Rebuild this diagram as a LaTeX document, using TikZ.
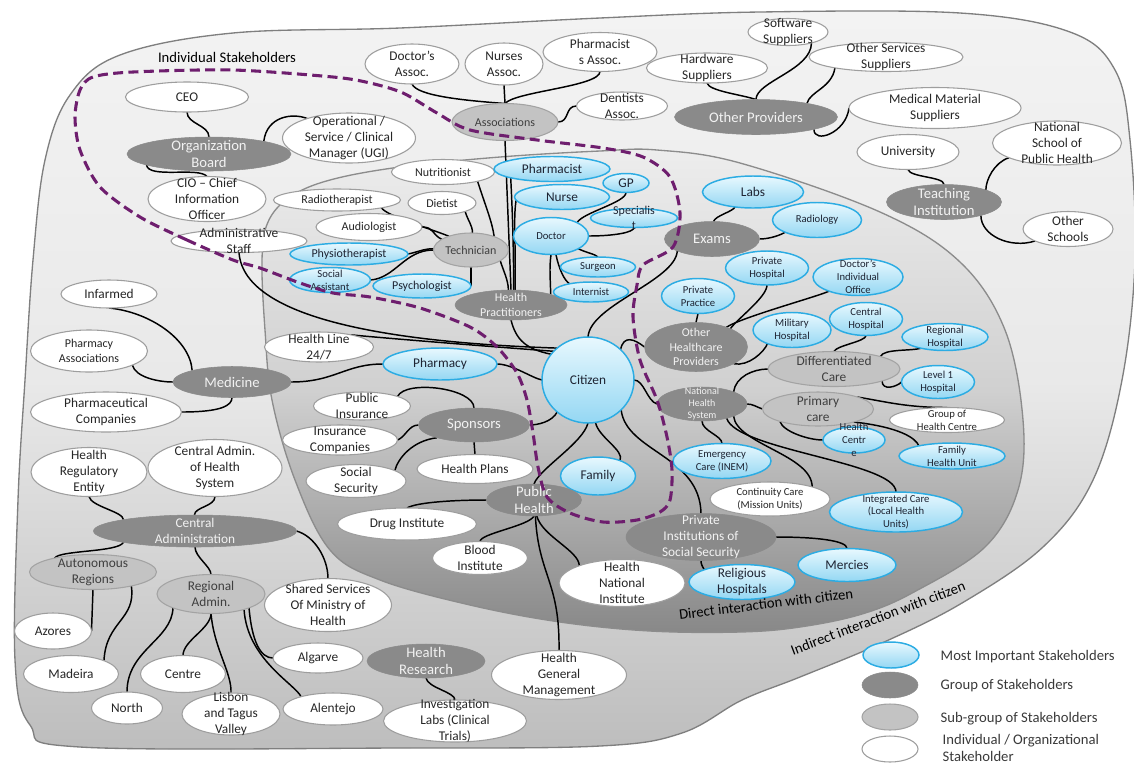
\documentclass[tikz,border=0pt]{standalone}
\usepackage{fontspec}
\setmainfont{Carlito}
\usetikzlibrary{shapes.geometric}
\pgfdeclarelayer{regions}
\pgfdeclarelayer{links}
\pgfsetlayers{regions,links,main}

\definecolor{outline}{HTML}{7F7F7F}
\definecolor{outtop}{HTML}{F3F3F3}
\definecolor{outmid}{HTML}{E9E9E9}
\definecolor{outbot}{HTML}{BDBDBD}
\definecolor{intop}{HTML}{EDEDED}
\definecolor{inmid}{HTML}{D0D0D0}
\definecolor{inbot}{HTML}{888888}
\definecolor{grpfill}{HTML}{8A8A8A}
\definecolor{grptext}{HTML}{F2F2F2}
\definecolor{subfill}{HTML}{C3C3C3}
\definecolor{subline}{HTML}{A3A3A3}
\definecolor{subtext}{HTML}{3F3F3F}
\definecolor{indline}{HTML}{9E9E9E}
\definecolor{inktext}{HTML}{262626}
\definecolor{keyline}{HTML}{2CACE3}
\definecolor{keytop}{HTML}{E8F8FE}
\definecolor{keybot}{HTML}{94D7F3}
\definecolor{keytext}{HTML}{1E2433}
\definecolor{purpledash}{HTML}{6E1E6E}
\definecolor{legtext}{HTML}{3A3A3A}

\newcommand\fsBig{\fontsize{11}{13}\selectfont}
\newcommand\fsMid{\fontsize{10}{12}\selectfont}
\newcommand\fsSmall{\fontsize{9}{10.8}\selectfont}
\newcommand\fsTiny{\fontsize{8}{9.6}\selectfont}
\newcommand\fsMini{\fontsize{7.5}{9.2}\selectfont}

\tikzset{
  shapebase/.style={ellipse, inner sep=0pt, outer sep=0pt},
  keyst/.style={shapebase, draw=keyline, line width=1.1pt, top color=keytop, bottom color=keybot},
  grpst/.style={shapebase, fill=grpfill, draw=grpfill, line width=0.4pt},
  subst/.style={shapebase, fill=subfill, draw=subline, line width=0.8pt},
  indst/.style={shapebase, fill=white, draw=indline, line width=0.8pt},
  linkst/.style={draw=black, line width=1.1pt},
  dashst/.style={draw=purpledash, line width=2.3pt, dash pattern=on 7.5pt off 4pt},
  regionst/.style={draw=outline, line width=1pt},
  every label/.append style={align=center, inner sep=0pt},
}

% one stakeholder ellipse: name, x, y, width, height (pixels), font, text
\newcommand\keynode[7]{\node[keyst, minimum width=#4*0.75pt, minimum height=#5*0.75pt,
  label={[font=#6, text=keytext]center:#7}] (#1) at (#2,#3) {};}
\newcommand\grpnode[7]{\node[grpst, minimum width=#4*0.75pt, minimum height=#5*0.75pt,
  label={[font=#6, text=grptext]center:#7}] (#1) at (#2,#3) {};}
\newcommand\subnode[7]{\node[subst, minimum width=#4*0.75pt, minimum height=#5*0.75pt,
  label={[font=#6, text=subtext]center:#7}] (#1) at (#2,#3) {};}
\newcommand\indnode[7]{\node[indst, minimum width=#4*0.75pt, minimum height=#5*0.75pt,
  label={[font=#6, text=inktext]center:#7}] (#1) at (#2,#3) {};}

\begin{document}
\begin{tikzpicture}[x=0.75pt,y=-0.75pt]
\useasboundingbox (0,0) rectangle (1134,765);

% ---------- interaction regions ----------
\begin{pgfonlayer}{regions}
\path[regionst, top color=outtop, bottom color=outbot, middle color=outmid]
  plot[smooth cycle, tension=0.6] coordinates {
  (33,260) (45,160) (70,95) (120,55) (233,33) (400,28) (600,18) (760,12)
  (960,13) (1070,32) (1115,70) (1130,140) (1135,260) (1122,380) (1093,480)
  (1043,547) (962,603) (882,643) (800,677) (742,700) (682,733) (600,746)
  (400,748) (80,747) (30,725) (15,660) (18,500) (25,380)};
\path[draw=outline!90, line width=1pt, top color=intop, bottom color=inbot, middle color=inmid]
  plot[smooth cycle, tension=0.6] coordinates {
  (265,330) (262,260) (268,222) (290,197) (330,180) (400,167) (500,157)
  (600,151) (657,150) (740,163) (880,212) (960,262) (1005,330) (1023,420)
  (1018,490) (985,547) (914,592) (862,614) (800,627) (740,632) (650,631)
  (560,622) (470,605) (380,580) (330,550) (295,480) (272,400)};
\end{pgfonlayer}

% ---------- organisation ----------
\indnode{ceo}{187}{97}{123}{30}{\fsMid}{CEO}
\grpnode{ob}{209}{154}{164}{34}{\fsBig}{Organization\\Board}
\indnode{cio}{207}{199}{118}{45}{\fsMid}{CIO -- Chief\\Information\\Officer}
\indnode{adm}{239}{241}{136}{23}{\fsMid}{Administrative\\Staff}
\indnode{opm}{349}{138}{133}{50}{\fsMid}{Operational /\\Service / Clinical\\Manager (UGI)}

% ---------- practitioners ----------
\indnode{rad}{337}{200}{127}{22}{\fsSmall}{Radiotherapist}
\indnode{aud}{369}{227}{106}{27}{\fsSmall}{Audiologist}
\keynode{phy}{349}{254}{118}{22}{\fsSmall}{Physiotherapist}
\keynode{soc}{330}{280}{81}{25}{\fsTiny}{Social\\Assistant}
\keynode{psy}{422}{286}{98}{24}{\fsSmall}{Psychologist}
\subnode{tec}{471}{250}{75}{34}{\fsSmall}{Technician}
\indnode{die}{442}{203}{68}{23}{\fsSmall}{Dietist}
\indnode{nut}{443}{172}{103}{25}{\fsSmall}{Nutritionist}
\grpnode{hp}{511}{305}{112}{30}{\fsSmall}{Health\\Practitioners}
\keynode{phm}{552}{169}{116}{25}{\fsMid}{Pharmacist}
\keynode{gp}{626}{183}{46}{19}{\fsMid}{GP}
\keynode{nur}{562}{197}{95}{25}{\fsMid}{Nurse}
\keynode{spe}{634}{218}{87}{19}{\fsSmall}{Specialis\\t}
\keynode{doc}{551}{236}{75}{37}{\fsTiny}{Doctor}
\keynode{sur}{598}{267}{75}{20}{\fsTiny}{Surgeon}
\keynode{int}{591}{292}{75}{20}{\fsTiny}{Internist}

% ---------- associations and providers ----------
\indnode{das}{412}{64}{94}{40}{\fsMid}{Doctor’s\\Assoc.}
\indnode{nas}{504}{64}{78}{42}{\fsMid}{Nurses\\Assoc.}
\indnode{pas}{600}{52}{114}{39}{\fsMid}{Pharmacist\\s Assoc.}
\indnode{dea}{622}{106}{91}{28}{\fsMid}{Dentists\\Assoc.}
\subnode{aso}{505}{122}{106}{37}{\fsSmall}{Associations}
\indnode{hws}{707}{68}{121}{30}{\fsMid}{Hardware\\Suppliers}
\grpnode{op}{756}{117}{163}{35}{\fsBig}{Other Providers}
\indnode{sws}{788}{32}{80}{27}{\fsMid}{Software\\Suppliers}
\indnode{oss}{886}{57}{154}{29}{\fsMid}{Other Services\\Suppliers}
\indnode{mms}{935}{108}{172}{41}{\fsMid}{Medical Material\\Suppliers}
\indnode{uni}{908}{152}{102}{35}{\fsMid}{University}
\indnode{nsp}{1057}{143}{129}{44}{\fsMid}{National\\School of\\Public Health}
\grpnode{ti}{944}{202}{115}{35}{\fsBig}{Teaching\\Institution}
\indnode{osc}{1068}{229}{90}{35}{\fsMid}{Other\\Schools}

% ---------- exams and healthcare providers ----------
\grpnode{exa}{712}{239}{95}{35}{\fsBig}{Exams}
\keynode{lab}{753}{192}{101}{32}{\fsMid}{Labs}
\keynode{rdg}{817}{220}{89}{35}{\fsTiny}{Radiology}
\keynode{ppr}{698}{296}{73}{35}{\fsTiny}{Private\\Practice}
\keynode{pho}{767}{268}{83}{34}{\fsTiny}{Private\\Hospital}
\grpnode{ohp}{696}{347}{103}{49}{\fsSmall}{Other\\Healthcare\\Providers}
\keynode{mil}{792}{330}{78}{35}{\fsTiny}{Military\\Hospital}
\keynode{dio}{858}{277}{90}{37}{\fsTiny}{Doctor’s\\Individual\\Office}
\keynode{ch}{866}{319}{73}{33}{\fsTiny}{Central\\Hospital}
\keynode{rh}{945}{337}{86}{27}{\fsTiny}{Regional\\Hospital}
\keynode{l1}{938}{382}{73}{33}{\fsTiny}{Level 1\\Hospital}
\subnode{dc}{834}{369}{132}{35}{\fsMid}{Differentiated\\Care}
\subnode{pc}{818}{409}{111}{34}{\fsMid}{Primary\\care}
\indnode{ghc}{947}{420}{115}{25}{\fsTiny}{Group of\\Health Centre}
\keynode{hc}{854}{440}{62}{26}{\fsTiny}{Health\\Centr\\e}
\keynode{fhu}{952}{456}{106}{26}{\fsTiny}{Family\\Health Unit}
\grpnode{nhs}{702}{404}{90}{34}{\fsMini}{National\\Health\\System}
\keynode{emc}{722}{461}{98}{35}{\fsTiny}{Emergency\\Care (INEM)}
\indnode{coc}{770}{499}{120}{34}{\fsTiny}{Continuity Care\\(Mission Units)}
\keynode{inc}{896}{512}{133}{40}{\fsTiny}{Integrated Care\\(Local Health\\Units)}
\grpnode{piss}{701}{537}{150}{47}{\fsMid}{Private\\Institutions of\\Social Security}
\keynode{rel}{742}{582}{106}{35}{\fsMid}{Religious\\Hospitals}
\keynode{mer}{847}{565}{98}{33}{\fsMid}{Mercies}

% ---------- citizen and sponsors ----------
\keynode{cit}{588}{380}{92}{86}{\fsMid}{Citizen}
\keynode{pcy}{440}{364}{114}{32}{\fsMid}{Pharmacy}
\keynode{fam}{598}{476}{75}{38}{\fsMid}{Family}
\grpnode{spo}{474}{425}{111}{34}{\fsBig}{Sponsors}
\indnode{hpl}{475}{469}{116}{29}{\fsMid}{Health Plans}
\indnode{pin}{362}{406}{97}{28}{\fsMid}{Public\\Insurance}
\indnode{ico}{340}{440}{115}{30}{\fsMid}{Insurance\\Companies}
\indnode{ssc}{356}{481}{100}{33}{\fsMid}{Social\\Security}
\indnode{hl}{319}{347}{109}{30}{\fsMid}{Health Line\\24/7}

% ---------- public health ----------
\grpnode{ph}{534}{500}{95}{32}{\fsBig}{Public\\Health}
\indnode{dri}{407}{524}{139}{32}{\fsMid}{Drug Institute}
\indnode{bli}{480}{558}{95}{33}{\fsMid}{Blood\\Institute}
\indnode{hni}{622}{583}{126}{47}{\fsMid}{Health\\National\\Institute}
\indnode{hgm}{559}{675}{135}{49}{\fsMid}{Health\\General\\Management}
\grpnode{hr}{426}{661}{118}{34}{\fsBig}{Health\\Research}
\indnode{inv}{455}{721}{143}{42}{\fsMid}{Investigation\\Labs (Clinical\\Trials)}

% ---------- medicine ----------
\indnode{inf}{109}{294}{96}{28}{\fsMid}{Infarmed}
\indnode{pha}{89}{351}{117}{42}{\fsSmall}{Pharmacy\\Associations}
\grpnode{med}{232}{382}{118}{31}{\fsBig}{Medicine}
\indnode{phc}{106}{412}{151}{40}{\fsMid}{Pharmaceutical\\Companies}

% ---------- central administration ----------
\indnode{hre}{89}{472}{116}{49}{\fsMid}{Health\\Regulatory\\Entity}
\indnode{cahs}{215}{468}{134}{57}{\fsMid}{Central Admin.\\of Health\\System}
\grpnode{ca}{195}{531}{203}{32}{\fsMid}{Central\\Administration}
\subnode{ar}{93}{572}{127}{35}{\fsMid}{Autonomous\\Regions}
\subnode{ra}{211}{594}{108}{39}{\fsMid}{Regional\\Admin.}
\indnode{ssm}{328}{605}{127}{53}{\fsMid}{Shared Services\\Of Ministry of\\Health}
\indnode{azo}{53}{631}{77}{36}{\fsMid}{Azores}
\indnode{mad}{71}{674}{95}{37}{\fsMid}{Madeira}
\indnode{cen}{183}{674}{85}{37}{\fsMid}{Centre}
\indnode{alg}{318}{658}{90}{30}{\fsMid}{Algarve}
\indnode{nor}{127}{708}{71}{32}{\fsMid}{North}
\indnode{lis}{231}{714}{98}{42}{\fsMid}{Lisbon\\and Tagus\\Valley}
\indnode{ale}{333}{709}{100}{32}{\fsMid}{Alentejo}

% ---------- connectors ----------
\begin{pgfonlayer}{links}
\draw[linkst] (ceo.south) .. controls +(0,12) and +(0,-12) .. (ob.north);
\draw[linkst] (ob.13) .. controls +(3,-25) and +(-15,-6) .. (opm.155);
\draw[linkst] (ob.190) .. controls +(2,14) and +(-8,-10) .. (cio.north);
\draw[linkst] (adm.south) .. controls +(5,70) and +(-150,-5) .. (cit.134);
\draw[linkst] (hl.21) .. controls +(30,3) and +(-80,-6) .. (cit.140);
\draw[linkst] (hp.south) .. controls +(5,20) and +(-25,-5) .. (cit.145);

\draw[linkst] (das.south) .. controls +(5,12) and +(-40,-3) .. (aso.north);
\draw[linkst] (nas.south) -- (aso.north);
\draw[linkst] (pas.south) .. controls +(0,15) and +(10,-12) .. (aso.north);
\draw[linkst] (dea.west) .. controls +(-12,0) and +(12,0) .. (aso.east);
\draw[linkst] (aso.south) -- (hp.north);
\draw[linkst] (phm.192) .. controls +(2,40) and +(0,-40) .. (hp.80);
\draw[linkst] (nur.184) .. controls +(-3,20) and +(1,-50) .. (hp.75);
\draw[linkst] (doc.south) .. controls +(-2,15) and +(0,-15) .. (hp.15);
\draw[linkst] (doc.-25) .. controls +(8,4) and +(-3,-3) .. (sur.north);
\draw[linkst] (doc.-75) .. controls +(3,15) and +(-5,-3) .. (int.159);
\draw[linkst] (doc.27) .. controls +(5,-10) and +(0,10) .. (gp.south);
\draw[linkst] (doc.east) .. controls +(25,0) and +(0,5) .. (spe.south);

\draw[linkst] (rad.-10) .. controls +(5,8) and +(-20,-8) .. (tec.148);
\draw[linkst] (aud.east) .. controls +(12,0) and +(-10,-5) .. (tec.160);
\draw[linkst] (phy.east) .. controls +(10,-2) and +(-10,0) .. (tec.178);
\draw[linkst] (soc.east) .. controls +(25,-2) and +(-29,0) .. (tec.west);
\draw[linkst] (psy.east) -- (tec.south);
\draw[linkst] (die.-20) .. controls +(3,10) and +(0,-8) .. (tec.85);
\draw[linkst] (nut.-15) .. controls +(8,25) and +(-2,-15) .. (tec.30);
\draw[linkst] (tec.-20) .. controls +(3,10) and +(0,-10) .. (hp.100);

\draw[linkst] (cit.north) .. controls +(2,-32) and +(-2,30) .. (exa.199);
\draw[linkst] (cit.43) .. controls +(3,-15) and +(-10,-8) .. (ohp.west);
\draw[linkst] (cit.east) .. controls +(10,0) and +(-10,-3) .. (nhs.west);
\draw[linkst] (pcy.east) .. controls +(15,0) and +(-10,-2) .. (cit.west);
\draw[linkst] (cit.226) .. controls +(-5,10) and +(8,0) .. (spo.east);
\draw[linkst] (cit.south) .. controls +(-5,20) and +(5,-15) .. (ph.north);
\draw[linkst] (cit.-80) .. controls +(3,15) and +(5,-10) .. (fam.35);
\draw[linkst] (cit.-42) .. controls +(5,42) and +(-1,-58) .. (piss.north);

\draw[linkst] (nhs.south) .. controls +(0,10) and +(0,-8) .. (emc.north);
\draw[linkst] (nhs.21) .. controls +(2,-15) and +(-15,0) .. (dc.west);
\draw[linkst] (nhs.east) .. controls +(6,0) and +(-6,-2) .. (pc.west);
\draw[linkst] (nhs.-21) .. controls +(3,28) and +(0,-32) .. (coc.16);
\draw[linkst] (nhs.-30) .. controls +(10,32) and +(0,-30) .. (inc.north);

\draw[linkst] (ppr.south) -- (ohp.north);
\draw[linkst] (ohp.28) .. controls +(7,-10) and +(0,12) .. (pho.south);
\draw[linkst] (ohp.33) .. controls +(15,-10) and +(-10,5) .. (dio.206);
\draw[linkst] (ohp.-24) .. controls +(15,3) and +(-3,8) .. (mil.209);

\draw[linkst] (dc.north) .. controls +(2,-6) and +(0,6) .. (ch.south);
\draw[linkst] (dc.15) .. controls +(3,-8) and +(-10,3) .. (rh.205);
\draw[linkst] (dc.-14) .. controls +(0,10) and +(-5,5) .. (l1.west);
\draw[linkst] (pc.17) .. controls +(30,5) and +(-40,0) .. (ghc.north);
\draw[linkst] (pc.198) .. controls +(3,10) and +(-15,0) .. (hc.west);
\draw[linkst] (pc.-20) .. controls +(45,5) and +(-3,-8) .. (fhu.163);

\draw[linkst] (hws.south) .. controls +(2,8) and +(-15,-5) .. (op.north);
\draw[linkst] (sws.-25) .. controls +(0,27) and +(0,-18) .. (op.north);
\draw[linkst] (oss.192) .. controls +(-3,20) and +(3,-12) .. (op.15);
\draw[linkst] (op.-12) .. controls +(0,15) and +(-3,25) .. (mms.west);
\draw[linkst] (uni.south) .. controls +(2,8) and +(0,-8) .. (ti.north);
\draw[linkst] (nsp.197) .. controls +(-15,5) and +(0,-10) .. (ti.16);
\draw[linkst] (osc.200) .. controls +(-25,8) and +(0,20) .. (ti.-20);
\draw[linkst] (lab.220) .. controls +(-3,5) and +(2,-6) .. (exa.85);
\draw[linkst] (exa.east) .. controls +(10,0) and +(-5,3) .. (rdg.201);

\draw[linkst] (inf.south) .. controls +(41,4) and +(-2,-31) .. (med.164);
\draw[linkst] (pha.-18) .. controls +(3,12) and +(-15,0) .. (med.west);
\draw[linkst] (phc.east) .. controls +(40,0) and +(0,8) .. (med.south);
\draw[linkst] (med.east) .. controls +(44,0) and +(-38,0) .. (pcy.west);

\draw[linkst] (pin.15) .. controls +(8,-17) and +(0,-20) .. (spo.north);
\draw[linkst] (spo.west) .. controls +(-10,0) and +(8,-3) .. (ico.east);
\draw[linkst] (spo.199) .. controls +(-25,3) and +(3,-12) .. (ssc.15);
\draw[linkst] (spo.south) -- (hpl.north);

\draw[linkst] (dri.north) .. controls +(10,-6) and +(-30,0) .. (ph.west);
\draw[linkst] (ph.south) .. controls +(-5,10) and +(0,-8) .. (bli.north);
\draw[linkst] (ph.-80) .. controls +(5,20) and +(0,-15) .. (hni.158);
\draw[linkst] (ph.-85) .. controls +(3,60) and +(1,-70) .. (hgm.north);
\draw[linkst] (hr.south) .. controls +(2,10) and +(0,-8) .. (inv.north);
\draw[linkst] (piss.south) .. controls +(0,4) and +(-2,-4) .. (rel.162);
\draw[linkst] (piss.east) .. controls +(40,0) and +(0,-8) .. (mer.north);

\draw[linkst] (hre.south) .. controls +(2,10) and +(0,-8) .. (ca.171);
\draw[linkst] (cahs.south) .. controls +(0,10) and +(0,-8) .. (ca.92);
\draw[linkst] (ca.189) .. controls +(-5,10) and +(5,-8) .. (ar.160);
\draw[linkst] (ca.south) .. controls +(0,10) and +(0,-8) .. (ra.north);
\draw[linkst] (ca.east) .. controls +(18,5) and +(0,-20) .. (ssm.north);
\draw[linkst] (ar.south) -- (azo.east);
\draw[linkst] (ar.-20) .. controls +(5,34) and +(2,-40) .. (mad.22);
\draw[linkst] (ra.200) .. controls +(-1,32) and +(0,-42) .. (nor.north);
\draw[linkst] (ra.south) .. controls +(0,15) and +(0,-15) .. (cen.north);
\draw[linkst] (ra.south) .. controls +(3,35) and +(1,-20) .. (lis.north);
\draw[linkst] (ra.-20) .. controls +(3,35) and +(-12,0) .. (alg.west);
\draw[linkst] (ra.-25) .. controls +(3,50) and +(-5,-12) .. (ale.159);
\end{pgfonlayer}

% ---------- individual stakeholders boundary ----------
\draw[dashst] plot[smooth cycle, tension=0.5] coordinates {
  (233,260) (187,240) (140,217) (100,187) (80,150) (75,117) (80,90) (93,77)
  (133,72) (233,70) (333,77) (370,83) (403,93) (437,113) (470,130) (537,140)
  (603,148) (643,157) (670,177) (680,213) (673,247) (643,265) (637,285)
  (633,317) (640,360) (657,400) (667,437) (672,470) (670,500) (660,512)
  (637,520) (603,522) (570,513) (547,497) (538,467) (533,433) (527,400)
  (517,373) (497,347) (470,327) (420,308) (370,297) (333,293) (300,283)
  (260,268)};

% ---------- region captions ----------
\node[font=\fsBig, text=black] (cap-ind) at (227,57) {Individual Stakeholders};
\node[font=\fsBig, text=black, rotate=7] (cap-direct) at (766,604) {Direct interaction with citizen};
\node[font=\fsBig, text=black, rotate=20.7] (cap-indirect) at (878,618) {Indirect interaction with citizen};

% ---------- legend ----------
\keynode{lg1}{891}{655}{56}{26}{\fsMid}{}
\grpnode{lg2}{890}{685}{56}{26}{\fsMid}{}
\subnode{lg3}{890}{717}{56}{26}{\fsMid}{}
\indnode{lg4}{890}{749}{56}{26}{\fsMid}{}
\node[anchor=west, font=\fsBig, text=legtext] (lg1-t) at (936,657) {Most Important Stakeholders};
\node[anchor=west, font=\fsBig, text=legtext] (lg2-t) at (936,686) {Group of Stakeholders};
\node[anchor=west, font=\fsBig, text=legtext] (lg3-t) at (936,719) {Sub-group of Stakeholders};
\node[anchor=west, align=left, font=\fontsize{11}{13.2}\selectfont, text=legtext] (lg4-t) at (938,748) {Individual / Organizational\\Stakeholder};
\end{tikzpicture}
\end{document}
